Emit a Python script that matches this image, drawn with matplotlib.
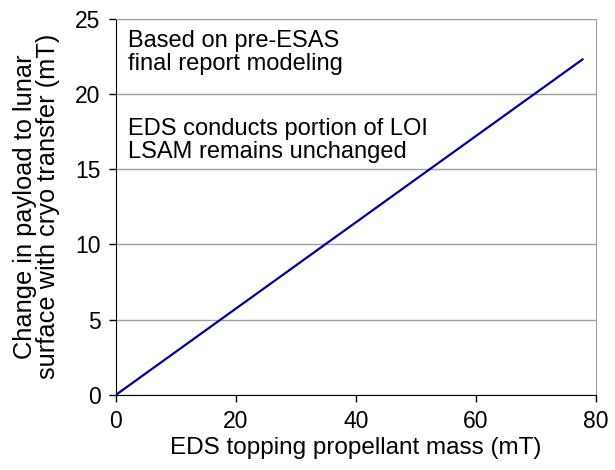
import matplotlib
matplotlib.use('Agg')
import matplotlib.pyplot as plt
import numpy as np

plt.rcParams['font.family'] = ['Liberation Sans', 'DejaVu Sans']

# topping propellant mass (mT) vs change in payload (mT)
prop_mass = [0, 77.8]
payload_delta = [0, 22.3]
xticks = [0, 20, 40, 60, 80]
yticks = [0, 5, 10, 15, 20, 25]
note_lines = ['Based on pre-ESAS', 'final report modeling',
              'EDS conducts portion of LOI', 'LSAM remains unchanged']
note_y = [0.926, 0.864, 0.692, 0.630]

fig = plt.figure(figsize=(6.15, 4.7), dpi=100)
ax = fig.add_axes([0.1886, 0.160, 0.780, 0.800])

ax.plot(prop_mass, payload_delta, color='#000099', lw=1.6, zorder=3)

ax.set_xlim(0, 80)
ax.set_ylim(0, 25)
ax.set_xticks(xticks)
ax.set_yticks(yticks)
ax.yaxis.grid(True, color='#a0a0a0', lw=1)
ax.set_axisbelow(True)
for s in ['top', 'right']:
    ax.spines[s].set_color('#a0a0a0')
ax.tick_params(direction='out', length=5, width=1, labelsize=16.5, pad=6)

ax.set_xlabel('EDS topping propellant mass (mT)', fontsize=17.5, labelpad=3)
ax.set_ylabel('Change in payload to lunar\nsurface with cryo transfer (mT)',
              fontsize=18.3, labelpad=11, linespacing=0.95)

for txt, yy in zip(note_lines, note_y):
    ax.text(0.025, yy, txt, transform=ax.transAxes, fontsize=17, va='baseline')

fig.savefig('out.png', dpi=100)
